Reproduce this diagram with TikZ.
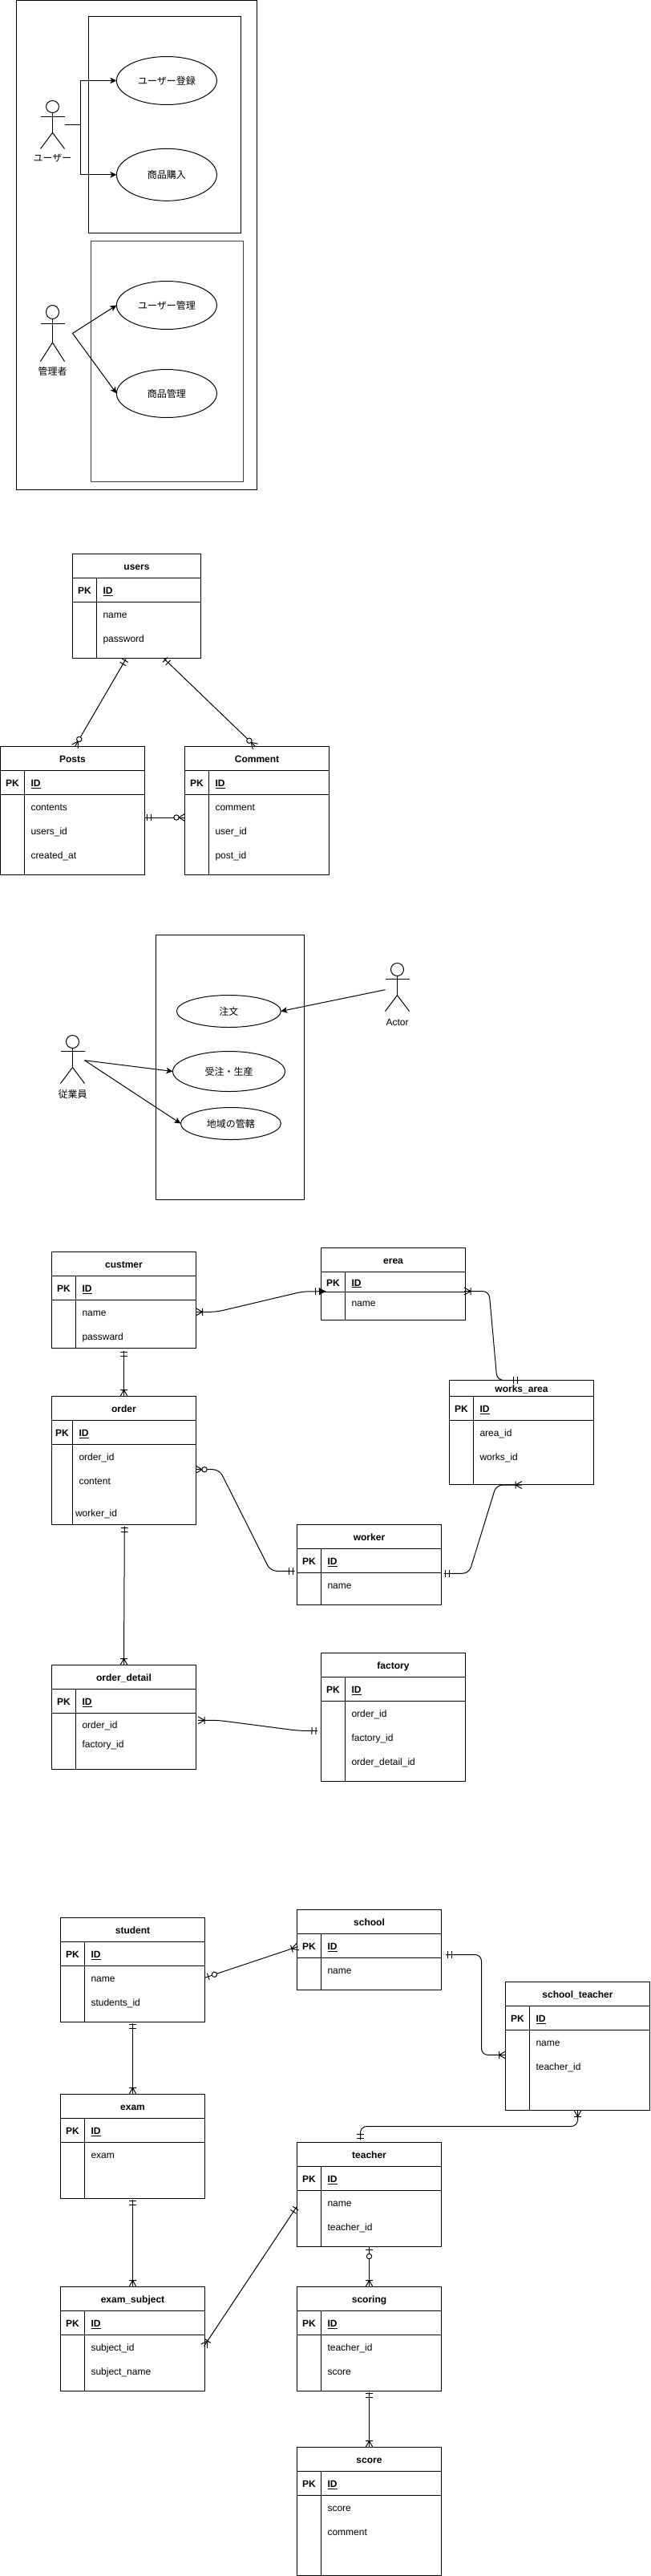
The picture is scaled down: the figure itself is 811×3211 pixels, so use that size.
\documentclass[tikz,border=0pt]{standalone}
\usepackage{fontspec}
\setmainfont{Liberation Sans}
\newfontfamily\cjk{Noto Sans CJK JP}
\usetikzlibrary{arrows.meta,calc,shapes.geometric}
\newcommand{\ertick}[2]{\pgfpathmoveto{\pgfqpoint{#1}{-#2}}\pgfpathlineto{\pgfqpoint{#1}{#2}}}
\newcommand{\ercrow}[2]{\pgfpathmoveto{\pgfqpoint{0pt}{#2}}\pgfpathlineto{\pgfqpoint{#1}{0pt}}\pgfpathlineto{\pgfqpoint{0pt}{-#2}}}
\newcommand{\ercirc}[2]{\pgfsetfillcolor{white}\pgfpathcircle{\pgfqpoint{#1}{0pt}}{#2}\pgfusepathqfillstroke}
\pgfdeclarearrow{name=ermandone,
  setup code={\pgfarrowssettipend{0pt}\pgfarrowssetlineend{-3pt}\pgfarrowssetvisualbackend{-3pt}\pgfarrowssetbackend{-3pt}\pgfarrowshullpoint{0pt}{0pt}},
  drawing code={\ertick{-5pt}{4.3pt}\ertick{-10pt}{4.3pt}\pgfusepathqstroke}}
\pgfdeclarearrow{name=ermandarrow,
  setup code={\pgfarrowssettipend{0pt}\pgfarrowssetlineend{-6pt}\pgfarrowssetvisualbackend{-6pt}\pgfarrowssetbackend{-6pt}\pgfarrowshullpoint{0pt}{0pt}},
  drawing code={\ertick{-7pt}{4.3pt}\ertick{-12pt}{4.3pt}\pgfusepathqstroke
    \pgfpathmoveto{\pgfqpoint{0pt}{0pt}}\pgfpathlineto{\pgfqpoint{-7pt}{3.5pt}}\pgfpathlineto{\pgfqpoint{-7pt}{-3.5pt}}\pgfpathclose\pgfusepathqfillstroke}}
\pgfdeclarearrow{name=ermany,
  setup code={\pgfarrowssettipend{0pt}\pgfarrowssetlineend{0pt}\pgfarrowssetvisualbackend{0pt}\pgfarrowssetbackend{0pt}\pgfarrowshullpoint{0pt}{0pt}},
  drawing code={\ertick{-8pt}{4.5pt}\ercrow{-8pt}{4.5pt}\pgfusepathqstroke}}
\pgfdeclarearrow{name=erzeromany,
  setup code={\pgfarrowssettipend{0pt}\pgfarrowssetlineend{0pt}\pgfarrowssetvisualbackend{0pt}\pgfarrowssetbackend{0pt}\pgfarrowshullpoint{0pt}{0pt}},
  drawing code={\ercrow{-7.5pt}{4.5pt}\pgfusepathqstroke\ercirc{-10.5pt}{3.2pt}}}
\pgfdeclarearrow{name=erzeroone,
  setup code={\pgfarrowssettipend{0pt}\pgfarrowssetlineend{0pt}\pgfarrowssetvisualbackend{0pt}\pgfarrowssetbackend{0pt}\pgfarrowshullpoint{0pt}{0pt}},
  drawing code={\ertick{-4pt}{4.3pt}\pgfusepathqstroke\ercirc{-12pt}{3.2pt}}}
\tikzset{
  every node/.style={font=\fontsize{12}{14}\selectfont,text=black},
  tablebox/.style={draw,rectangle,inner sep=0pt,outer sep=0pt,anchor=north west},
  frame/.style={draw,rectangle,inner sep=0pt,outer sep=0pt,anchor=north west},
  usecase/.style={draw,ellipse,inner sep=0pt,outer sep=0pt},
  basetext/.style={inner sep=0pt,outer sep=0pt,anchor=base west},
  titletext/.style={inner sep=0pt,outer sep=0pt,anchor=base,font=\fontsize{12}{14}\selectfont\bfseries},
  arr/.style={-{Stealth[length=8pt,width=7.5pt,inset=2pt]}},
  erline/.style={rounded corners=8pt},
}
% name x y w col titleh pkh H title, followed by {rows}
\def\ertable#1#2#3#4#5#6#7#8#9{%
  \node[tablebox,minimum width=#4pt,minimum height=#8pt] (#1) at (#2,#3) {};
  \draw ($(#1.north west)+(0,#6)$) -- ($(#1.north east)+(0,#6)$);
  \draw ($(#1.north west)+(0,{#6+#7})$) -- ($(#1.north east)+(0,{#6+#7})$);
  \draw ($(#1.north west)+(#5,#6)$) -- ($(#1.south west)+(#5,0)$);
  \node[titletext] (#1-title) at ($(#1.north west)+({#4/2},{#6/2+5})$) {#9};
  \node[titletext] (#1-pk) at ($(#1.north west)+({#5/2},{#6+#7/2+5})$) {PK};
  \node[titletext,anchor=base west] (#1-id) at ($(#1.north west)+({#5+8},{#6+#7/2+5})$) {\underline{ID}};
  \edef\curname{#1}\edef\curcol{#5}%
  \ertablerows}
\def\ertablerows#1{%
  \foreach \rowtxt/\rowdy [count=\rowi] in {#1}{%
    \node[basetext] (\curname-r\rowi) at ($(\curname.north west)+({\curcol+8},{\rowdy+4})$) {\rowtxt};
  }}
% name cx top headbottom arm bodyend legend label laby
\def\myactor#1#2#3#4#5#6#7#8#9{%
  \pgfmathsetmacro{\acth}{#7-#3}\pgfmathsetmacro{\actc}{(#7+#3)/2}\pgfmathsetmacro{\acthc}{(#3+#4)/2}\pgfmathsetmacro{\actr}{(#4-#3)/2}%
  \node[inner sep=0pt,outer sep=0pt,minimum width=30pt,minimum height=\acth pt] (#1) at (#2,\actc) {};
  \draw (#2,\acthc) ellipse [x radius=8pt,y radius=\actr pt];
  \draw ({#2-15},#5) -- ({#2+15},#5);
  \draw (#2,#4) -- (#2,#6);
  \draw ({#2-15},#7) -- (#2,#6) -- ({#2+15},#7);
  \node[inner sep=0pt,outer sep=0pt,anchor=base] (#1-label) at (#2,{#9+4.5}) {#8};
}
\begin{document}
\begin{tikzpicture}[x=1pt,y=-1pt,line width=1pt,line join=miter]
\path[fill=white,use as bounding box] (0,0) rectangle (811,3211);

% --- use case 1
\node[frame,minimum width=300pt,minimum height=610pt] (outer) at (20.5,0.5) {};
\node[frame,minimum width=190pt,minimum height=270pt] (box1) at (110.5,20.5) {};
\node[frame,minimum width=190pt,minimum height=300pt,draw=black!75] (box2) at (113.5,300.5) {};
\node[usecase,minimum width=125pt,minimum height=60pt] (uc1) at (207.9,100.5) {{\cjk ユーザー登録}};
\node[usecase,minimum width=125pt,minimum height=65pt] (uc2) at (207.9,217.8) {{\cjk 商品購入}};
\node[usecase,minimum width=125pt,minimum height=60pt] (uc3) at (207.9,380.5) {{\cjk ユーザー管理}};
\node[usecase,minimum width=125pt,minimum height=60pt] (uc4) at (207.9,490.5) {{\cjk 商品管理}};
\myactor{user}{65.5}{125.5}{140.5}{145.5}{165.5}{185.5}{{\cjk ユーザー}}{197.5}
\myactor{admin}{65.5}{380.5}{397.5}{403.5}{427}{450.5}{{\cjk 管理者}}{463}
\draw[arr] (user.east) -- ++(20,0) |- (uc1.west);
\draw[arr] (user.east) -- ++(20,0) |- (uc2.west);
\draw[arr] ($(admin.east)+(10,0)$) -- (uc3.west);
\draw[arr] ($(admin.east)+(10,0)$) -- (uc4.west);

% --- ER 1
\ertable{users}{90.5}{690.5}{160}{30}{30}{30}{130}{users}{name/76,password/106}
\ertable{posts}{0.5}{930.5}{180}{30}{30}{30}{160}{Posts}{contents/76,users\_id/106,created\_at/136}
\ertable{comment}{230.5}{930.5}{180}{30}{30}{30}{160}{Comment}{comment/76,user\_id/106,post\_id/136}
\draw[{ermandone}-{erzeromany}] ($(users.north west)+(68,128.5)$) -- ($(posts.north west)+(93,0)$);
\draw[{ermandone}-{erzeromany}] ($(users.north west)+(112,128.5)$) -- ($(comment.north west)+(88,0)$);
\draw[{ermandone}-{erzeromany}] ($(posts.north west)+(177.5,88.5)$) -- ($(comment.north west)+(0,88.5)$);

% --- use case 2
\node[frame,minimum width=185pt,minimum height=330pt] (box3) at (194.5,1165.5) {};
\node[usecase,minimum width=130pt,minimum height=40pt] (uc5) at (285.3,1260.5) {{\cjk 注文}};
\node[usecase,minimum width=140pt,minimum height=50pt] (uc6) at (285.5,1335.5) {{\cjk 受注・生産}};
\node[usecase,minimum width=125pt,minimum height=40pt] (uc7) at (287.9,1400.5) {{\cjk 地域の管轄}};
\myactor{actor}{495.5}{1200.5}{1216.5}{1220.5}{1240.5}{1260.5}{Actor}{1274}
\myactor{staff}{90.5}{1290.5}{1306.5}{1310.5}{1330.5}{1350.5}{{\cjk 従業員}}{1363.5}
\draw[arr] ($(actor.west)+(0,3.2)$) -- (uc5.east);
\draw[arr] ($(staff.east)+(0,1.2)$) -- (uc6.west);
\draw[arr] ($(staff.east)+(0,1.2)$) -- (uc7.west);

% --- ER 2
\ertable{custmer}{64.5}{1560.5}{180}{30}{30}{30}{120}{custmer}{name/76,passward/106}
\ertable{order}{64.5}{1740.5}{180}{26}{30}{30}{160}{order}{order\_id/76,content/106}
\node[basetext] (order-w) at ($(order.north west)+(29.5,150)$) {worker\_id};
\ertable{erea}{400.5}{1555.5}{180}{30}{30}{25}{90}{erea}{name/69}
\ertable{worksarea}{560.5}{1720.5}{180}{30}{20}{30}{130}{works\_area}{area\_id/66,works\_id/96}
\ertable{worker}{370.5}{1900.5}{180}{30}{30}{30}{100}{worker}{name/76}
\ertable{orderdetail}{64.5}{2075.5}{180}{30}{30}{30}{130}{order\_detail}{order\_id/75,factory\_id/98.5}
\ertable{factory}{400.5}{2060.5}{180}{30}{30}{30}{160}{factory}{order\_id/76,factory\_id/106,order\_detail\_id/136}
\draw[erline,{ermany}-{ermandarrow}] ($(custmer.north west)+(180,74.8)$) -- (270,1635.3) -- (378,1609.8) -- ($(erea.north west)+(5,54.2)$);
\draw[erline,{ermany}-{ermandone}] ($(erea.north west)+(178.5,54)$) -- (610,1609.5) -- (620,1720.5) -- ($(worksarea.north west)+(90,0)$);
\draw[{ermandone}-{ermany}] ($(custmer.north west)+(90,120)$) -- ($(order.north west)+(90,0)$);
\draw[erline,{erzeromany}-{ermandone}] ($(order.north west)+(180,91.2)$) -- (273.6,1831.7) -- (337.3,1958.3) -- ($(worker.north west)+(0,57.8)$);
\draw[erline,{ermandone}-{ermany}] ($(worker.north west)+(180,60.8)$) -- (585,1961.3) -- (619,1851) -- ($(worksarea.north west)+(90.5,130.5)$);
\draw[{ermandone}-{ermany}] ($(order.north west)+(90.8,159)$) -- ($(orderdetail.north west)+(90,0)$);
\draw[erline,{ermany}-{ermandone}] ($(orderdetail.north west)+(182.5,68.8)$) -- (272,2144.3) -- (372,2157.3) -- ($(factory.north west)+(-1.5,97)$);

% --- ER 3
\ertable{student}{75.5}{2390.5}{180}{30}{30}{30}{130}{student}{name/76,students\_id/106}
\ertable{school}{370.5}{2380.5}{180}{30}{30}{30}{100}{school}{name/76}
\ertable{schoolteacher}{630.5}{2470.5}{180}{30}{30}{30}{160}{school\_teacher}{name/76,teacher\_id/106}
\ertable{exam}{75.5}{2610.5}{180}{30}{30}{30}{130}{exam}{exam/76}
\ertable{teacher}{370.5}{2670.5}{180}{30}{30}{30}{130}{teacher}{name/76,teacher\_id/106}
\ertable{examsubject}{75.5}{2850.5}{180}{30}{30}{30}{130}{exam\_subject}{subject\_id/76,subject\_name/106}
\ertable{scoring}{370.5}{2850.5}{180}{30}{30}{30}{130}{scoring}{teacher\_id/76,score/106}
\ertable{score}{370.5}{3050.5}{180}{30}{30}{30}{160}{score}{score/76,comment/106}
\draw[{erzeroone}-{ermany}] ($(student.north west)+(180.5,74.5)$) -- ($(school.north west)+(1,46)$);
\draw[{ermandone}-{ermany}] ($(student.north west)+(90,128)$) -- ($(exam.north west)+(90,0)$);
\draw[erline,{ermandone}-{ermany}] ($(school.north west)+(182.5,56)$) -- (600.5,2436.5) -- (600.5,2561.5) -- ($(schoolteacher.north west)+(0,91)$);
\draw[erline,{ermany}-{ermandone}] ($(schoolteacher.north west)+(90,160)$) -- (720.5,2650.5) -- (449.5,2650.5) -- ($(teacher.north west)+(79,0)$);
\draw[{ermandone}-{ermany}] ($(exam.north west)+(90,128)$) -- ($(examsubject.north west)+(90,0)$);
\draw[{ermandone}-{ermany}] ($(teacher.north west)+(1,78)$) -- ($(examsubject.north west)+(179,74)$);
\draw[{erzeroone}-{ermany}] ($(teacher.north west)+(90,130)$) -- ($(scoring.north west)+(90,0)$);
\draw[{ermandone}-{ermany}] ($(scoring.north west)+(90,128)$) -- ($(score.north west)+(90,0)$);
\end{tikzpicture}
\end{document}
